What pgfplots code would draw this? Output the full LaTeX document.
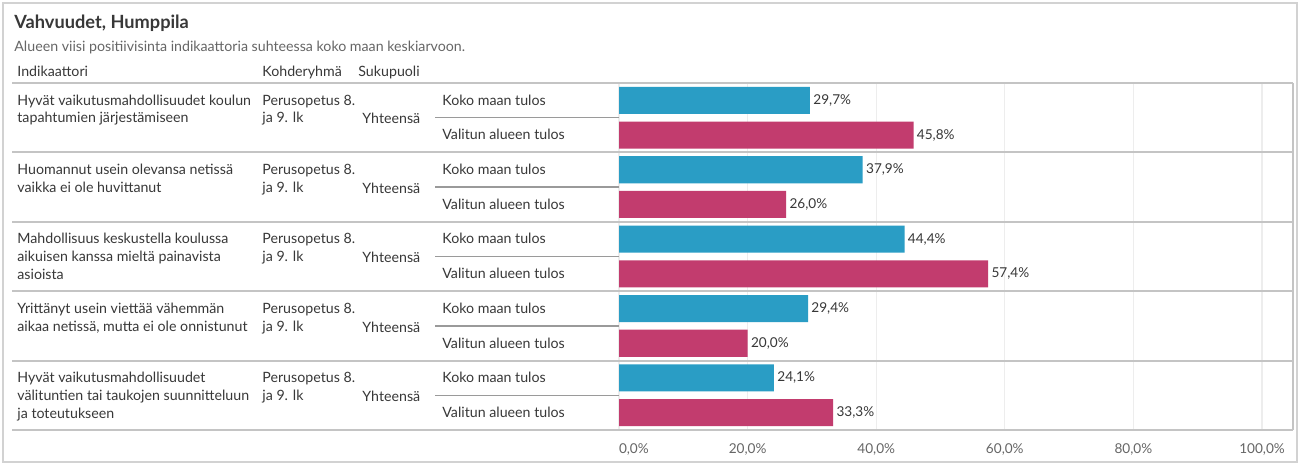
\documentclass[border=0pt]{standalone}
\usepackage{fontspec}
\setmainfont{Lato}
\usepackage{pgfplots}
\pgfplotsset{compat=1.18}
\definecolor{cblue}{HTML}{2A9DC5}
\definecolor{cmag}{HTML}{C23C6E}
\definecolor{txt}{HTML}{383838}
\definecolor{subtxt}{HTML}{666666}
\definecolor{sep}{HTML}{C4C4C4}
\definecolor{subsep}{HTML}{9A9A9A}
\definecolor{gridc}{HTML}{EDEDED}
\definecolor{frame}{HTML}{D2D2D2}
\newcommand\rowfont{\fontsize{7.1}{8}\selectfont}
\begin{document}
\begin{tikzpicture}
\useasboundingbox (0,0) rectangle (650pt,-232.5pt);
\fill[white] (0,0) rectangle (650pt,-232.5pt);
\begin{axis}[at={(307pt,-215pt)}, anchor=south west, scale only axis,
  width=339.5pt, height=173.5pt,
  xmin=-0.778, xmax=104.82, ymin=0, ymax=10, y dir=reverse,
  xbar, bar width=0.78, bar shift=0pt,
  axis line style={draw=none},
  xtick={0,20,40,60,80,100}, ytick=\empty, major tick length=0pt,
  xticklabels={\makebox[0pt][l]{0,0\%},{20,0\%},{40,0\%},{60,0\%},{80,0\%},{100,0\%}},
  xticklabel style={font=\fontsize{6.8}{8}\selectfont, text=subtxt, yshift=-3.5pt},
  xmajorgrids, grid style={color=gridc, line width=0.6pt},
  nodes near coords={\pgfmathprintnumber[fixed,fixed zerofill,precision=1,use comma,assume math mode=true]{\pgfplotspointmeta}\%},
  every node near coord/.append style={font=\fontsize{6.8}{8}\selectfont, text=txt, anchor=west, inner sep=1.5pt},
  clip=false]
\addplot[fill=cblue, draw=none] coordinates {(29.7,0.5) (37.9,2.5) (44.4,4.5) (29.4,6.5) (24.1,8.5)};
\addplot[fill=cmag, draw=none] coordinates {(45.8,1.5) (26.0,3.5) (57.4,5.5) (20.0,7.5) (33.3,9.5)};
\end{axis}
\begin{scope}[x=0.5pt,y=-0.5pt]
% frame
\draw[frame, line width=1pt] (3,3) rectangle (1297,462);
% title
\node[anchor=base west, text=txt, font=\fontsize{9.1}{10}\selectfont\bfseries, inner sep=0pt] at (14,29) {Vahvuudet, Humppila};
\node[anchor=base west, text=subtxt, font=\fontsize{7.1}{8}\selectfont, inner sep=0pt] at (14,52) {Alueen viisi positiivisinta indikaattoria suhteessa koko maan keskiarvoon.};
% header
\node[anchor=base west, text=txt, font=\rowfont, inner sep=0pt] at (17,77) {Indikaattori};
\node[anchor=base west, text=txt, font=\rowfont, inner sep=0pt] at (262,77) {Kohderyhmä};
\node[anchor=base west, text=txt, font=\rowfont, inner sep=0pt] at (358,77) {Sukupuoli};
% separators
\foreach \yy in {83,152.4,221.8,291.2,360.6,430}{
  \draw[sep, line width=1pt] (12,\yy) -- (1293,\yy);
}
\draw[sep, line width=0.8pt] (1293,83) -- (1293,430);
% rows
\foreach \i/\la/\lb/\lc in {0/Hyvät vaikutusmahdollisuudet koulun/tapahtumien järjestämiseen/,
  1/Huomannut usein olevansa netissä/vaikka ei ole huvittanut/,
  2/Mahdollisuus keskustella koulussa/aikuisen kanssa mieltä painavista/asioista,
  3/Yrittänyt usein viettää vähemmän/{aikaa netissä, mutta ei ole onnistunut}/,
  4/Hyvät vaikutusmahdollisuudet/välituntien tai taukojen suunnitteluun/ja toteutukseen}{
  \pgfmathsetmacro\t{83+69.4*\i}
  \begin{scope}[every node/.style={anchor=base west, text=txt, font=\rowfont, inner sep=0pt}]
  \node at (17,{\t+22}) {\la};
  \node at (17,{\t+40}) {\lb};
  \node at (17,{\t+58}) {\lc};
  \node at (262,{\t+22}) {Perusopetus 8.};
  \node at (262,{\t+40}) {ja 9. lk};
  \node at (362,{\t+41}) {Yhteensä};
  \node at (442,{\t+22}) {Koko maan tulos};
  \node at (442,{\t+57}) {Valitun alueen tulos};
  \end{scope}
  \draw[subsep, line width=0.7pt] (435,{\t+34.7}) -- (619,{\t+34.7});
}
\end{scope}
\end{tikzpicture}
\end{document}
